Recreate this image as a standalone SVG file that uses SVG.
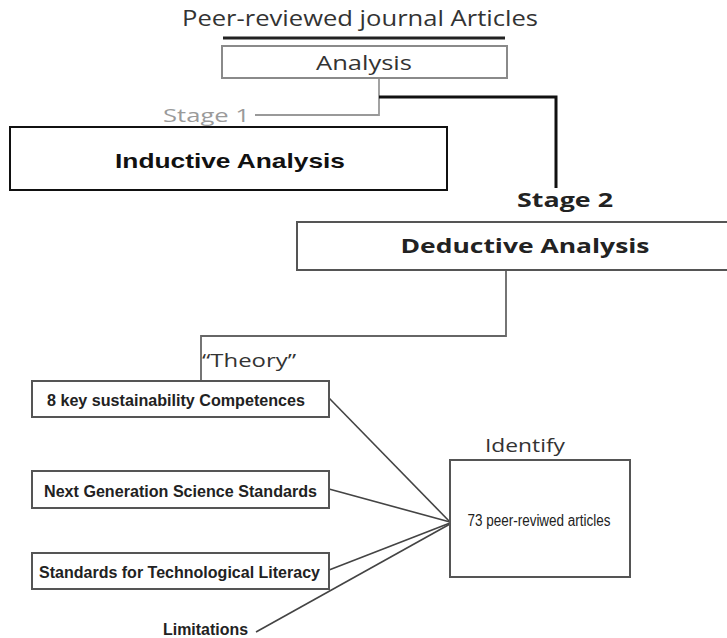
<svg xmlns="http://www.w3.org/2000/svg" width="727" height="638" viewBox="0 0 727 638">
<style>
.seg{font-family:"Open Sans","Noto Sans","DejaVu Sans",sans-serif;fill:#333}
.bold{font-family:"Liberation Sans",Arial,sans-serif;font-weight:bold;fill:#111}
.cond{font-family:"Liberation Sans",Arial,sans-serif;font-weight:bold;fill:#222}
.gbox{fill:#fff;stroke:#8a8a8a;stroke-width:2}
.kbox{fill:#fff;stroke:#111;stroke-width:2}
.tbox{fill:#fff;stroke:#555;stroke-width:2}
.thin{fill:none;stroke:#444;stroke-width:1.6}
</style>
<rect width="727" height="638" fill="#fff"/>
<g id="connectors">
<line x1="223" y1="38" x2="505" y2="38" stroke="#222" stroke-width="3"/>
<polyline points="255,115 379,115 379,78" fill="none" stroke="#999" stroke-width="1.8"/>
<polyline points="379,97 556,97 556,188" fill="none" stroke="#111" stroke-width="3"/>
<polyline points="506,270 506,336 201,336 201,381" fill="none" stroke="#666" stroke-width="1.8"/>
<line x1="329" y1="398" x2="450" y2="522" class="thin"/>
<line x1="329" y1="489" x2="450" y2="522" class="thin"/>
<line x1="329" y1="570" x2="450" y2="523" class="thin"/>
<line x1="256" y1="632" x2="450" y2="524" class="thin"/>
</g>
<g id="title">
<text class="seg" x="360" y="26" text-anchor="middle" font-size="21" textLength="356" lengthAdjust="spacingAndGlyphs">Peer-reviewed journal Articles</text>
</g>
<g id="analysis">
<rect class="gbox" x="222" y="46" width="285" height="32"/>
<text class="seg" x="364" y="70" text-anchor="middle" font-size="20" textLength="96" lengthAdjust="spacingAndGlyphs">Analysis</text>
</g>
<g id="stage1">
<text x="163" y="122" font-family="'Open Sans','Noto Sans',sans-serif" font-size="19" fill="#9a9a9a" textLength="87" lengthAdjust="spacingAndGlyphs">Stage 1</text>
</g>
<g id="inductive">
<rect class="kbox" x="10" y="127" width="437" height="63"/>
<text class="bold" x="230" y="168" text-anchor="middle" font-size="21" textLength="230" lengthAdjust="spacingAndGlyphs">Inductive Analysis</text>
</g>
<g id="stage2">
<text x="517" y="207" font-family="'Open Sans','Noto Sans',sans-serif" font-weight="bold" font-size="20" fill="#222" textLength="96" lengthAdjust="spacingAndGlyphs">Stage 2</text>
</g>
<g id="deductive">
<rect class="tbox" x="297" y="222" width="440" height="48"/>
<text x="525" y="253" text-anchor="middle" font-family="'Open Sans','Noto Sans',sans-serif" font-weight="bold" font-size="20" fill="#222" textLength="249" lengthAdjust="spacingAndGlyphs">Deductive Analysis</text>
</g>
<g id="theory">
<text class="seg" x="202" y="367" font-size="19" textLength="94" lengthAdjust="spacingAndGlyphs">“Theory”</text>
</g>
<g id="competences">
<rect class="tbox" x="32" y="381" width="297" height="36"/>
<text class="cond" x="47" y="406" font-size="17" textLength="258" lengthAdjust="spacingAndGlyphs">8 key sustainability Competences</text>
</g>
<g id="ngss">
<rect class="tbox" x="32" y="471" width="297" height="37"/>
<text class="cond" x="44" y="497" font-size="17" textLength="273" lengthAdjust="spacingAndGlyphs">Next Generation Science Standards</text>
</g>
<g id="stl">
<rect class="tbox" x="32" y="553" width="297" height="36"/>
<text class="cond" x="39" y="578" font-size="17" textLength="281" lengthAdjust="spacingAndGlyphs">Standards for Technological Literacy</text>
</g>
<g id="limitations">
<text class="cond" x="163" y="635" font-size="17" textLength="85" lengthAdjust="spacingAndGlyphs">Limitations</text>
</g>
<g id="identify">
<text class="seg" x="485" y="452" font-size="18" textLength="80" lengthAdjust="spacingAndGlyphs">Identify</text>
</g>
<g id="articles">
<rect class="tbox" x="450" y="460" width="180" height="117"/>
<text x="539" y="526" text-anchor="middle" font-family="'Liberation Sans',Arial,sans-serif" font-size="16" fill="#222" textLength="143" lengthAdjust="spacingAndGlyphs">73 peer-reviwed articles</text>
</g>
</svg>
